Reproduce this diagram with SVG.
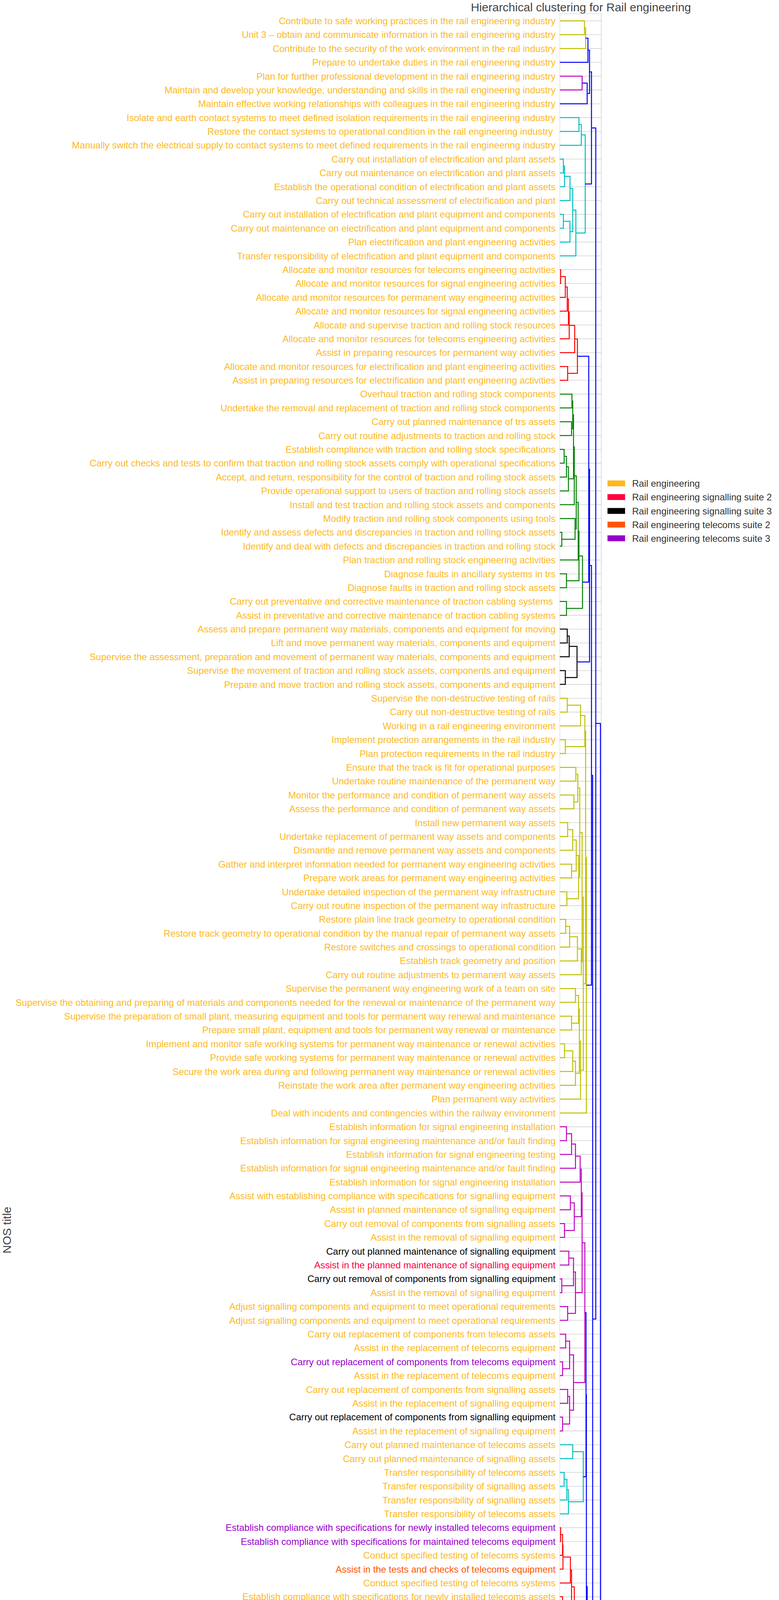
<svg xmlns="http://www.w3.org/2000/svg" width="1994" height="6328" viewBox="0 0 1994 6328">
<style>
text{font-family:"Liberation Sans",Arial,Helvetica,sans-serif}
#labels text{font-size:24px;text-anchor:end;fill:#fdb81e}
#labels .k{fill:#000}
#labels .s2{fill:#ff0040}
#labels .t2{fill:#ff5500}
#labels .t3{fill:#9900cc}
.d{fill:none;stroke-width:2.5;vector-effect:non-scaling-stroke;stroke-linejoin:miter}
.grid{fill:none;stroke:#d4d4d4;stroke-width:1.6;vector-effect:non-scaling-stroke}
.ax{fill:#444}
.leg{font-size:24px;fill:#333}
</style>
<rect width="1994" height="6328" fill="#fff"/>
<text class="ax" x="1487" y="29" font-size="30" text-anchor="middle">Hierarchical clustering for Rail engineering</text>
<g id="plotframe">
<path d="M1433 35V6263M1433 35H1540M1433 6263H1540" fill="none" stroke="#d0d0d0" stroke-width="1"/>
<path d="M1539 35V6263" fill="none" stroke="#d4d4d4" stroke-width="1.6"/>
</g>
<g id="connectors" transform="translate(0 18) scale(1 35.39)">
<path class="grid" d="M1433 1h107m-107 1h107m-107 1h107m-107 1h107m-107 1h107m-107 1h107m-107 1h107m-107 1h107m-107 1h107m-107 1h107m-107 1h107m-107 1h107m-107 1h107m-107 1h107m-107 1h107m-107 1h107m-107 1h107m-107 1h107m-107 1h107m-107 1h107m-107 1h107m-107 1h107m-107 1h107m-107 1h107m-107 1h107m-107 1h107m-107 1h107m-107 1h107m-107 1h107m-107 1h107m-107 1h107m-107 1h107m-107 1h107m-107 1h107m-107 1h107m-107 1h107m-107 1h107m-107 1h107m-107 1h107m-107 1h107m-107 1h107m-107 1h107m-107 1h107m-107 1h107m-107 1h107m-107 1h107m-107 1h107m-107 1h107m-107 1h107m-107 1h107m-107 1h107m-107 1h107m-107 1h107m-107 1h107m-107 1h107m-107 1h107m-107 1h107m-107 1h107m-107 1h107m-107 1h107m-107 1h107m-107 1h107m-107 1h107m-107 1h107m-107 1h107m-107 1h107m-107 1h107m-107 1h107m-107 1h107m-107 1h107m-107 1h107m-107 1h107m-107 1h107m-107 1h107m-107 1h107m-107 1h107m-107 1h107m-107 1h107m-107 1h107m-107 1h107m-107 1h107m-107 1h107m-107 1h107m-107 1h107m-107 1h107m-107 1h107m-107 1h107m-107 1h107m-107 1h107m-107 1h107m-107 1h107m-107 1h107m-107 1h107m-107 1h107m-107 1h107m-107 1h107m-107 1h107m-107 1h107m-107 1h107m-107 1h107m-107 1h107m-107 1h107m-107 1h107m-107 1h107m-107 1h107m-107 1h107m-107 1h107m-107 1h107m-107 1h107m-107 1h107m-107 1h107m-107 1h107m-107 1h107m-107 1h107m-107 1h107m-107 1h107m-107 1h107m-107 1h107m-107 1h107m-107 1h107m-107 1h107m-107 1h107m-107 1h107m-107 1h107m-107 1h107m-107 1h107m-107 1h107m-107 1h107m-107 1h107m-107 1h107m-107 1h107m-107 1h107m-107 1h107m-107 1h107m-107 1h107m-107 1h107m-107 1h107m-107 1h107m-107 1h107m-107 1h107m-107 1h107m-107 1h107m-107 1h107m-107 1h107m-107 1h107m-107 1h107m-107 1h107m-107 1h107m-107 1h107m-107 1h107m-107 1h107m-107 1h107m-107 1h107m-107 1h107m-107 1h107m-107 1h107m-107 1h107m-107 1h107m-107 1h107m-107 1h107m-107 1h107m-107 1h107m-107 1h107m-107 1h107"/>
<path class="d" stroke="#bfbf00" d="M1433 1H1496V2H1433M1496 1.5H1499V3H1433M1433 50H1452V51H1433M1452 50.5H1486V52H1433M1433 53H1447V54H1433M1486 51.25H1497V53.5H1447M1433 55H1474V56H1433M1433 57H1469V58H1433M1474 55.5H1479V57.5H1469M1433 59H1453V60H1433M1453 59.5H1466V61H1433M1433 62H1463V63H1433M1466 60.25H1475V62.5H1463M1433 64H1451V65H1433M1475 61.375H1481V64.5H1451M1479 56.5H1484V62.9375H1481M1433 66H1448V67H1433M1448 66.5H1458V68H1433M1458 67.25H1478V69H1433M1478 68.125H1488V70H1433M1484 59.719H1490V69.0625H1488M1433 71H1473V72H1433M1433 73H1463V74H1433M1473 71.5H1481V73.5H1463M1433 75H1445V76H1433M1445 75.5H1466V77H1433M1466 76.25H1473V78H1433M1481 72.5H1483V77.125H1473M1483 74.8125H1486V79H1433M1490 64.391H1493V76.906H1486M1497 52.375H1499V70.649H1493M1499 61.512H1501V80H1433"/>
<path class="d" stroke="#bf00bf" d="M1433 5H1490V6H1433M1433 81H1450V82H1433M1450 81.5H1463V83H1433M1463 82.25H1473V84H1433M1473 83.125H1485V85H1433M1433 86H1460V87H1433M1433 88H1445V89H1433M1460 86.5H1470V88.5H1445M1485 84.0625H1488V87.5H1470M1433 90H1456V91H1433M1433 92H1438V93H1433M1456 90.5H1468V92.5H1438M1433 94H1453V95H1433M1468 91.5H1473V94.5H1453M1488 85.781H1490V93H1473M1433 96H1448V97H1433M1433 98H1440V99H1433M1448 96.5H1458V98.5H1440M1433 100H1453V101H1433M1433 102H1440V103H1433M1453 100.5H1458V102.5H1440M1458 97.5H1468V101.5H1458M1490 89.39H1497V99.5H1468"/>
<path class="d" stroke="#00bfbf" d="M1433 8H1482V9H1433M1482 8.5H1488V10H1433M1433 11H1442V12H1433M1442 11.5H1445V13H1433M1445 12.25H1459V14H1433M1433 15H1442V16H1433M1442 15.5H1459V17H1433M1459 13.125H1466V16.25H1459M1466 14.6875H1474V18H1433M1488 9.25H1498V16.344H1474M1433 104H1466V105H1433M1433 106H1444V107H1433M1444 106.5H1451V108H1433M1451 107.25H1455V109H1433M1466 104.5H1493V108.125H1455"/>
<path class="d" stroke="#ff0000" d="M1433 19H1435V20H1433M1435 19.5H1447V21H1433M1447 20.25H1452V22H1433M1452 21.125H1455V23H1433M1455 22.0625H1457V24H1433M1457 23.031H1471V25H1433M1433 26H1453V27H1433M1471 24.016H1478V26.5H1453M1433 110H1435V111H1433M1435 110.5H1440V112H1433M1440 111.25H1441V113H1433M1441 112.125H1460V114H1433M1433 115H1440V116H1433M1460 113.0625H1463V115.5H1440M1433 117H1436V118H1433M1436 117.5H1440V119H1433M1440 118.25H1445V120H1433M1445 119.125H1447V121H1433M1433 122H1435V123H1433M1435 122.5H1440V124H1433M1447 120.0625H1453V123.25H1440M1453 121.656H1457V125H1433M1463 114.281H1470V123.328H1457M1433 126H1448V127H1433M1433 128H1446V129H1433M1448 126.5H1468V128.5H1446M1468 127.5H1476V130H1433M1470 118.805H1483V128.75H1476M1433 131H1447V132H1433M1433 133H1445V134H1433M1447 131.5H1453V133.5H1445M1483 123.777H1499V132.5H1453"/>
<path class="d" stroke="#008000" d="M1433 28H1464V29H1433M1433 30H1463V31H1433M1464 28.5H1466V30.5H1463M1433 32H1444V33H1433M1444 32.5H1450V34H1433M1450 33.25H1455V35H1433M1466 29.5H1468V34.125H1455M1468 31.8125H1470V36H1433M1433 38H1438V39H1433M1433 37H1472V38.5H1438M1470 33.906H1475V37.75H1472M1475 35.828H1480V40H1433M1433 41H1450V42H1433M1480 37.914H1482V41.5H1450M1433 43H1450V44H1433M1482 39.707H1491V43.5H1450M1433 135H1458V136H1433M1433 137H1448V138H1433M1458 135.5H1463V137.5H1448M1433 139H1438V140H1433M1433 141H1435V142H1433M1438 139.5H1450V141.5H1435M1463 136.5H1485V140.5H1450M1433 143H1443V144H1433M1443 143.5H1468V145H1433M1433 146H1460V147H1433M1468 144.25H1483V146.5H1460M1433 148H1456V149H1433M1456 148.5H1470V150H1433M1483 145.375H1487V149.25H1470M1485 138.5H1498V147.3125H1487M1433 151H1458V152H1433M1433 153H1448V154H1433M1458 151.5H1465V153.5H1448M1465 152.5H1476V155H1433M1433 156H1436V157H1433M1436 156.5H1456V158H1433M1433 159H1436V160H1433M1456 157.25H1466V159.5H1436M1476 153.75H1488V158.375H1466M1433 161H1446V162H1433M1446 161.5H1453V163H1433M1433 165H1456V166H1433M1433 164H1475V165.5H1456M1453 162.25H1486V164.75H1475M1488 156.0625H1492V163.5H1486M1433 167H1436V168H1433M1436 167.5H1456V169H1433M1433 170H1436V171H1433M1456 168.25H1463V170.5H1436M1433 172H1448V173H1433M1448 172.5H1456V174H1433M1463 169.375H1466V173.25H1456M1492 159.781H1496V171.3125H1466M1498 142.906H1500V165.547H1496"/>
<path class="d" stroke="#000000" d="M1433 45H1452V46H1433M1452 45.5H1457V47H1433M1433 48H1447V49H1433M1457 46.25H1477V48.5H1447"/>
<path class="d" stroke="#0000ff" d="M1499 2.25H1505V4H1433M1490 5.5H1503V7H1433M1505 3.125H1509V6.25H1503M1509 4.6875H1514V12.797H1498M1478 25.258H1507V41.604H1491M1507 33.431H1509V47.375H1477M1509 40.403H1514V70.756H1501M1497 94.445H1500V106.3125H1493M1500 100.379H1501V128.139H1499M1501 114.259H1503V154.227H1500M1514 55.58H1517V134.243H1503M1514 8.742H1525V94.91H1517M1433 175H1514V176H1433M1525 51.826H1537V175.5H1514"/>
</g>
<g id="labels" transform="translate(1422 0)">
<g id="leaf1"><text y="61.9">Contribute to safe working practices in the rail engineering industry</text></g>
<g id="leaf2"><text y="97.3">Unit 3 – obtain and communicate information in the rail engineering industry</text></g>
<g id="leaf3"><text y="132.7">Contribute to the security of the work environment in the rail industry</text></g>
<g id="leaf4"><text y="168.1">Prepare to undertake duties in the rail engineering industry</text></g>
<g id="leaf5"><text y="203.5">Plan for further professional development in the rail engineering industry</text></g>
<g id="leaf6"><text y="238.8">Maintain and develop your knowledge, understanding and skills in the rail engineering industry</text></g>
<g id="leaf7"><text y="274.2">Maintain effective working relationships with colleagues in the rail engineering industry</text></g>
<g id="leaf8"><text y="309.6">Isolate and earth contact systems to meet defined isolation requirements in the rail engineering industry</text></g>
<g id="leaf9"><text x="-6.7" y="345.0">Restore the contact systems to operational condition in the rail engineering industry</text></g>
<g id="leaf10"><text y="380.4">Manually switch the electrical supply to contact systems to meet defined requirements in the rail engineering industry</text></g>
<g id="leaf11"><text y="415.8">Carry out installation of electrification and plant assets</text></g>
<g id="leaf12"><text y="451.2">Carry out maintenance on electrification and plant assets</text></g>
<g id="leaf13"><text y="486.6">Establish the operational condition of electrification and plant assets</text></g>
<g id="leaf14"><text y="522.0">Carry out technical assessment of electrification and plant</text></g>
<g id="leaf15"><text y="557.4">Carry out installation of electrification and plant equipment and components</text></g>
<g id="leaf16"><text y="592.7">Carry out maintenance on electrification and plant equipment and components</text></g>
<g id="leaf17"><text y="628.1">Plan electrification and plant engineering activities</text></g>
<g id="leaf18"><text y="663.5">Transfer responsibility of electrification and plant equipment and components</text></g>
<g id="leaf19"><text y="698.9">Allocate and monitor resources for telecoms engineering activities</text></g>
<g id="leaf20"><text y="734.3">Allocate and monitor resources for signal engineering activities</text></g>
<g id="leaf21"><text y="769.7">Allocate and monitor resources for permanent way engineering activities</text></g>
<g id="leaf22"><text y="805.1">Allocate and monitor resources for signal engineering activities</text></g>
<g id="leaf23"><text y="840.5">Allocate and supervise traction and rolling stock resources</text></g>
<g id="leaf24"><text y="875.9">Allocate and monitor resources for telecoms engineering activities</text></g>
<g id="leaf25"><text y="911.3">Assist in preparing resources for permanent way activities</text></g>
<g id="leaf26"><text y="946.6">Allocate and monitor resources for electrification and plant engineering activities</text></g>
<g id="leaf27"><text y="982.0">Assist in preparing resources for electrification and plant engineering activities</text></g>
<g id="leaf28"><text y="1017.4">Overhaul traction and rolling stock components</text></g>
<g id="leaf29"><text y="1052.8">Undertake the removal and replacement of traction and rolling stock components</text></g>
<g id="leaf30"><text y="1088.2">Carry out planned maintenance of trs assets</text></g>
<g id="leaf31"><text y="1123.6">Carry out routine adjustments to traction and rolling stock</text></g>
<g id="leaf32"><text y="1159.0">Establish compliance with traction and rolling stock specifications</text></g>
<g id="leaf33"><text y="1194.4">Carry out checks and tests to confirm that traction and rolling stock assets comply with operational specifications</text></g>
<g id="leaf34"><text y="1229.8">Accept, and return, responsibility for the control of traction and rolling stock assets</text></g>
<g id="leaf35"><text y="1265.2">Provide operational support to users of traction and rolling stock assets</text></g>
<g id="leaf36"><text y="1300.5">Install and test traction and rolling stock assets and components</text></g>
<g id="leaf37"><text y="1335.9">Modify traction and rolling stock components using tools</text></g>
<g id="leaf38"><text y="1371.3">Identify and assess defects and discrepancies in traction and rolling stock assets</text></g>
<g id="leaf39"><text y="1406.7">Identify and deal with defects and discrepancies in traction and rolling stock</text></g>
<g id="leaf40"><text y="1442.1">Plan traction and rolling stock engineering activities</text></g>
<g id="leaf41"><text y="1477.5">Diagnose faults in ancillary systems in trs</text></g>
<g id="leaf42"><text y="1512.9">Diagnose faults in traction and rolling stock assets</text></g>
<g id="leaf43"><text x="-6.7" y="1548.3">Carry out preventative and corrective maintenance of traction cabling systems</text></g>
<g id="leaf44"><text y="1583.7">Assist in preventative and corrective maintenance of traction cabling systems</text></g>
<g id="leaf45"><text y="1619.1">Assess and prepare permanent way materials, components and equipment for moving</text></g>
<g id="leaf46"><text y="1654.4">Lift and move permanent way materials, components and equipment</text></g>
<g id="leaf47"><text y="1689.8">Supervise the assessment, preparation and movement of permanent way materials, components and equipment</text></g>
<g id="leaf48"><text y="1725.2">Supervise the movement of traction and rolling stock assets, components and equipment</text></g>
<g id="leaf49"><text y="1760.6">Prepare and move traction and rolling stock assets, components and equipment</text></g>
<g id="leaf50"><text y="1796.0">Supervise the non-destructive testing of rails</text></g>
<g id="leaf51"><text y="1831.4">Carry out non-destructive testing of rails</text></g>
<g id="leaf52"><text y="1866.8">Working in a rail engineering environment</text></g>
<g id="leaf53"><text y="1902.2">Implement protection arrangements in the rail industry</text></g>
<g id="leaf54"><text y="1937.6">Plan protection requirements in the rail industry</text></g>
<g id="leaf55"><text y="1973.0">Ensure that the track is fit for operational purposes</text></g>
<g id="leaf56"><text y="2008.3">Undertake routine maintenance of the permanent way</text></g>
<g id="leaf57"><text y="2043.7">Monitor the performance and condition of permanent way assets</text></g>
<g id="leaf58"><text y="2079.1">Assess the performance and condition of permanent way assets</text></g>
<g id="leaf59"><text y="2114.5">Install new permanent way assets</text></g>
<g id="leaf60"><text y="2149.9">Undertake replacement of permanent way assets and components</text></g>
<g id="leaf61"><text y="2185.3">Dismantle and remove permanent way assets and components</text></g>
<g id="leaf62"><text y="2220.7">Gather and interpret information needed for permanent way engineering activities</text></g>
<g id="leaf63"><text y="2256.1">Prepare work areas for permanent way engineering activities</text></g>
<g id="leaf64"><text y="2291.5">Undertake detailed inspection of the permanent way infrastructure</text></g>
<g id="leaf65"><text y="2326.9">Carry out routine inspection of the permanent way infrastructure</text></g>
<g id="leaf66"><text y="2362.2">Restore plain line track geometry to operational condition</text></g>
<g id="leaf67"><text y="2397.6">Restore track geometry to operational condition by the manual repair of permanent way assets</text></g>
<g id="leaf68"><text y="2433.0">Restore switches and crossings to operational condition</text></g>
<g id="leaf69"><text y="2468.4">Establish track geometry and position</text></g>
<g id="leaf70"><text y="2503.8">Carry out routine adjustments to permanent way assets</text></g>
<g id="leaf71"><text y="2539.2">Supervise the permanent way engineering work of a team on site</text></g>
<g id="leaf72"><text y="2574.6">Supervise the obtaining and preparing of materials and components needed for the renewal or maintenance of the permanent way</text></g>
<g id="leaf73"><text y="2610.0">Supervise the preparation of small plant, measuring equipment and tools for permanent way renewal and maintenance</text></g>
<g id="leaf74"><text y="2645.4">Prepare small plant, equipment and tools for permanent way renewal or maintenance</text></g>
<g id="leaf75"><text y="2680.8">Implement and monitor safe working systems for permanent way maintenance or renewal activities</text></g>
<g id="leaf76"><text y="2716.1">Provide safe working systems for permanent way maintenance or renewal activities</text></g>
<g id="leaf77"><text y="2751.5">Secure the work area during and following permanent way maintenance or renewal activities</text></g>
<g id="leaf78"><text y="2786.9">Reinstate the work area after permanent way engineering activities</text></g>
<g id="leaf79"><text y="2822.3">Plan permanent way activities</text></g>
<g id="leaf80"><text y="2857.7">Deal with incidents and contingencies within the railway environment</text></g>
<g id="leaf81"><text y="2893.1">Establish information for signal engineering installation</text></g>
<g id="leaf82"><text y="2928.5">Establish information for signal engineering maintenance and/or fault finding</text></g>
<g id="leaf83"><text y="2963.9">Establish information for signal engineering testing</text></g>
<g id="leaf84"><text y="2999.3">Establish information for signal engineering maintenance and/or fault finding</text></g>
<g id="leaf85"><text y="3034.7">Establish information for signal engineering installation</text></g>
<g id="leaf86"><text y="3070.0">Assist with establishing compliance with specifications for signalling equipment</text></g>
<g id="leaf87"><text y="3105.4">Assist in planned maintenance of signalling equipment</text></g>
<g id="leaf88"><text y="3140.8">Carry out removal of components from signalling assets</text></g>
<g id="leaf89"><text y="3176.2">Assist in the removal of signalling equipment</text></g>
<g id="leaf90"><text class="k" y="3211.6">Carry out planned maintenance of signalling equipment</text></g>
<g id="leaf91"><text class="s2" y="3247.0">Assist in the planned maintenance of signalling equipment</text></g>
<g id="leaf92"><text class="k" y="3282.4">Carry out removal of components from signalling equipment</text></g>
<g id="leaf93"><text y="3317.8">Assist in the removal of signalling equipment</text></g>
<g id="leaf94"><text y="3353.2">Adjust signalling components and equipment to meet operational requirements</text></g>
<g id="leaf95"><text y="3388.6">Adjust signalling components and equipment to meet operational requirements</text></g>
<g id="leaf96"><text y="3423.9">Carry out replacement of components from telecoms assets</text></g>
<g id="leaf97"><text y="3459.3">Assist in the replacement of telecoms equipment</text></g>
<g id="leaf98"><text class="t3" y="3494.7">Carry out replacement of components from telecoms equipment</text></g>
<g id="leaf99"><text y="3530.1">Assist in the replacement of telecoms equipment</text></g>
<g id="leaf100"><text y="3565.5">Carry out replacement of components from signalling assets</text></g>
<g id="leaf101"><text y="3600.9">Assist in the replacement of signalling equipment</text></g>
<g id="leaf102"><text class="k" y="3636.3">Carry out replacement of components from signalling equipment</text></g>
<g id="leaf103"><text y="3671.7">Assist in the replacement of signalling equipment</text></g>
<g id="leaf104"><text y="3707.1">Carry out planned maintenance of telecoms assets</text></g>
<g id="leaf105"><text y="3742.5">Carry out planned maintenance of signalling assets</text></g>
<g id="leaf106"><text y="3777.8">Transfer responsibility of telecoms assets</text></g>
<g id="leaf107"><text y="3813.2">Transfer responsibility of signalling assets</text></g>
<g id="leaf108"><text y="3848.6">Transfer responsibility of signalling assets</text></g>
<g id="leaf109"><text y="3884.0">Transfer responsibility of telecoms assets</text></g>
<g id="leaf110"><text class="t3" y="3919.4">Establish compliance with specifications for newly installed telecoms equipment</text></g>
<g id="leaf111"><text class="t3" y="3954.8">Establish compliance with specifications for maintained telecoms equipment</text></g>
<g id="leaf112"><text y="3990.2">Conduct specified testing of telecoms systems</text></g>
<g id="leaf113"><text class="t2" y="4025.6">Assist in the tests and checks of telecoms equipment</text></g>
<g id="leaf114"><text y="4061.0">Conduct specified testing of telecoms systems</text></g>
<g id="leaf115"><text y="4096.4">Establish compliance with specifications for newly installed telecoms assets</text></g>
<g id="leaf116"><text y="4131.7">Establish compliance with specifications for maintained telecoms assets</text></g>
<g id="leaf117"><text class="k" y="4167.1">Conduct maintenance testing of signalling equipment</text></g>
<g id="leaf118"><text y="4202.5">Conduct functional testing of newly installed signalling systems</text></g>
<g id="leaf119"><text y="4237.9">Conduct specific testing of signalling electronic equipment</text></g>
<g id="leaf120"><text class="k" y="4273.3">Establish compliance with specifications for signalling equipment</text></g>
<g id="leaf121"><text y="4308.7">Assist with establishing compliance with specifications for signalling equipment</text></g>
<g id="leaf122"><text y="4344.1">Conduct maintenance testing of signalling assets</text></g>
<g id="leaf123"><text y="4379.5">Conduct functional testing of newly installed signalling systems</text></g>
<g id="leaf124"><text y="4414.9">Conduct specific testing of signalling electronic equipment</text></g>
<g id="leaf125"><text y="4450.3">Establish compliance with specifications for signalling assets</text></g>
<g id="leaf126"><text y="4485.6">Plan signal maintenance testing activities</text></g>
<g id="leaf127"><text y="4521.0">Plan signal maintenance testing activities</text></g>
<g id="leaf128"><text y="4556.4">Plan telecoms maintenance testing activities</text></g>
<g id="leaf129"><text y="4591.8">Plan telecoms maintenance testing activities</text></g>
<g id="leaf130"><text y="4627.2">Establish information for signal engineering testing</text></g>
<g id="leaf131"><text class="t3" y="4662.6">Diagnose faults in telecoms equipment</text></g>
<g id="leaf132"><text y="4698.0">Diagnose faults in telecoms assets</text></g>
<g id="leaf133"><text class="k" y="4733.4">Diagnose faults in signalling equipment</text></g>
<g id="leaf134"><text y="4768.8">Diagnose faults in signalling assets</text></g>
<g id="leaf135"><text y="4804.2">Determine requirements for the safe access to work locations for telecoms engineering</text></g>
<g id="leaf136"><text y="4839.5">Determine requirements for safe access to work locations for signal engineering</text></g>
<g id="leaf137"><text y="4874.9">Determine requirements for the safe access to work locations for telecoms engineering</text></g>
<g id="leaf138"><text class="s2" y="4910.3">Determine requirements for the safe access to work locations for signal engineering</text></g>
<g id="leaf139"><text y="4945.7">Reinstate the work area after telecoms engineering activities</text></g>
<g id="leaf140"><text y="4981.1">Reinstate the work area after signal engineering activities</text></g>
<g id="leaf141"><text y="5016.5">Reinstate the work area after telecoms engineering activities</text></g>
<g id="leaf142"><text y="5051.9">Reinstate the work area after signal engineering activities</text></g>
<g id="leaf143"><text y="5087.3">Organise local telecoms engineering activities</text></g>
<g id="leaf144"><text y="5122.7">Organise local signal engineering activities</text></g>
<g id="leaf145"><text y="5158.1">Organise local telecoms engineering activities</text></g>
<g id="leaf146"><text y="5193.4">Organise local signal engineering activities</text></g>
<g id="leaf147"><text y="5228.8">Contribute to technical leadership of signal engineering activities</text></g>
<g id="leaf148"><text y="5264.2">Contribute to technical leadership of telecoms engineering activities</text></g>
<g id="leaf149"><text y="5299.6">Contribute to technical leadership of telecoms engineering activities</text></g>
<g id="leaf150"><text y="5335.0">Contribute to technical leadership of signal engineering activities</text></g>
<g id="leaf151"><text y="5370.4">Assist with tests and checks of telecoms equipment</text></g>
<g id="leaf152"><text y="5405.8">Assist in planned maintenance of telecoms equipment</text></g>
<g id="leaf153"><text y="5441.2">Carry out removal of components from telecoms assets</text></g>
<g id="leaf154"><text y="5476.6">Assist in the removal of telecoms equipment</text></g>
<g id="leaf155"><text y="5512.0">Adjust telecoms components and equipment to meet operational requirements</text></g>
<g id="leaf156"><text class="t3" y="5547.3">Carry out planned maintenance of telecoms equipment</text></g>
<g id="leaf157"><text class="t2" y="5582.7">Assist in the planned maintenance of telecoms equipment</text></g>
<g id="leaf158"><text y="5618.1">Adjust telecoms components and equipment to meet operational requirements</text></g>
<g id="leaf159"><text class="t3" y="5653.5">Carry out removal of components from telecoms equipment</text></g>
<g id="leaf160"><text y="5688.9">Assist in the removal of telecoms equipment</text></g>
<g id="leaf161"><text y="5724.3">Establish information for telecoms engineering installation</text></g>
<g id="leaf162"><text y="5759.7">Establish information for telecoms engineering maintenance and/or fault finding</text></g>
<g id="leaf163"><text y="5795.1">Establish information for telecoms engineering testing</text></g>
<g id="leaf164"><text y="5830.5">Establish information for telecoms engineering maintenance and/or fault finding</text></g>
<g id="leaf165"><text y="5865.9">Establish information for telecoms engineering testing</text></g>
<g id="leaf166"><text y="5901.2">Establish information for telecoms engineering installation</text></g>
<g id="leaf167"><text class="t3" y="5936.6">Carry out installation of telecoms equipment</text></g>
<g id="leaf168"><text y="5972.0">Assist in the installation of telecoms equipment</text></g>
<g id="leaf169"><text y="6007.4">Assist in the installation of telecoms equipment</text></g>
<g id="leaf170"><text class="k" y="6042.8">Carry out installation of signalling equipment</text></g>
<g id="leaf171"><text y="6078.2">Assist in the installation of signalling equipment</text></g>
<g id="leaf172"><text y="6113.6">Carry out installation of telecoms assets</text></g>
<g id="leaf173"><text y="6149.0">Carry out installation of signalling assets</text></g>
<g id="leaf174"><text y="6184.4">Assist in the installation of signalling equipment</text></g>
<g id="leaf175"><text y="6219.8">Support learners by coaching in the rail engineering workplace</text></g>
<g id="leaf176"><text y="6255.1">Support learners by mentoring in the rail engineering workplace</text></g>
</g>
<g id="axes">
<text class="ax" x="1433" y="6287" font-size="16.5" text-anchor="middle">0</text>
<text class="ax" x="1539" y="6287" font-size="16.5" text-anchor="middle">1</text>
<text class="ax" x="1487" y="6315" font-size="29" text-anchor="middle">Distance</text>
<text class="ax" x="27.5" y="3149" font-size="30" text-anchor="middle" transform="rotate(-90 27.5 3149)">NOS title</text>
</g>
<g id="legend">
<rect x="1555" y="1230" width="45" height="15" fill="#fdb81e"/>
<text class="leg" x="1618" y="1246">Rail engineering</text>
<rect x="1555" y="1265" width="45" height="15" fill="#ff0040"/>
<text class="leg" x="1618" y="1281">Rail engineering signalling suite 2</text>
<rect x="1555" y="1300.5" width="45" height="15" fill="#000000"/>
<text class="leg" x="1618" y="1316.5">Rail engineering signalling suite 3</text>
<rect x="1555" y="1335.5" width="45" height="15" fill="#ff5500"/>
<text class="leg" x="1618" y="1351.5">Rail engineering telecoms suite 2</text>
<rect x="1555" y="1370.5" width="45" height="15" fill="#9900cc"/>
<text class="leg" x="1618" y="1386.5">Rail engineering telecoms suite 3</text>
</g>
</svg>
